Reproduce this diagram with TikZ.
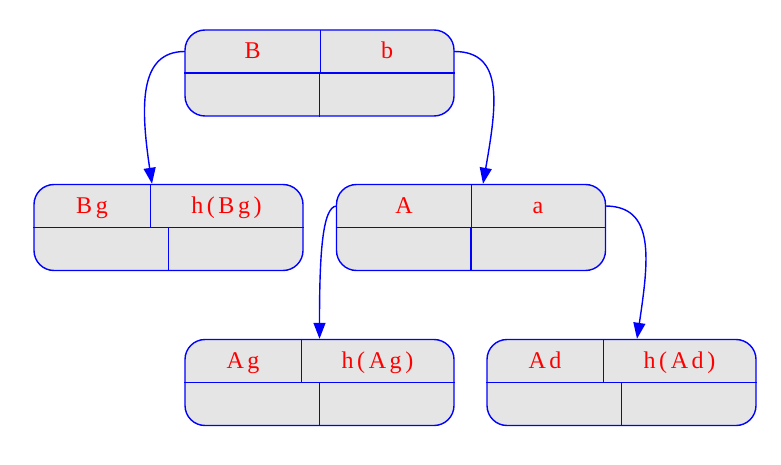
\documentclass[tikz,border=0pt]{standalone}
\usepackage{fontspec}
\setmainfont{Liberation Serif}[LetterSpace=15]
\usetikzlibrary{arrows.meta}
\definecolor{recgray}{HTML}{E5E5E5}

\begin{document}
\begin{tikzpicture}[x=1pt,y=-1pt,
  record/.style={draw=blue, fill=recgray, line width=1.4pt, rounded corners=20pt,
    minimum width=269pt, minimum height=86pt, inner sep=0pt},
  cell/.style={inner sep=0pt, minimum height=43pt, text=red,
    font=\fontsize{24}{24}\selectfont, text height=18pt, text depth=4pt},
  sep/.style={blue, line width=1.4pt},
  link/.style={blue, line width=1.4pt, -{Triangle[length=16pt,width=12pt]}}]
\useasboundingbox (0,0) rectangle (781,465);

% records
\node[record] (B) at (319.5,73) {};
\node[cell, minimum width=135pt] (Bk) at (252.5,51.5) {B};
\node[cell, minimum width=134pt] (Bv) at (387,51.5) {b};
\draw[sep] (B.west) -- (B.east);
\draw[sep] (Bk.north east) -- (Bk.south east);
\draw[sep] (B.center) -- (B.south);

\node[record] (Bg) at (168.5,227.5) {};
\node[cell, minimum width=116pt] (Bgk) at (92,206) {Bg};
\node[cell, minimum width=153pt] (Bgv) at (226.5,206) {h(Bg)};
\draw[sep] (Bg.west) -- (Bg.east);
\draw[sep] (Bgk.north east) -- (Bgk.south east);
\draw[sep] (Bg.center) -- (Bg.south);

\node[record] (A) at (471,227.5) {};
\node[cell, minimum width=134pt] (Ak) at (404,206) {A};
\node[cell, minimum width=134pt] (Av) at (538,206) {a};
\draw[sep] (A.west) -- (A.east);
\draw[sep] (Ak.north east) -- (Ak.south east);
\draw[sep] (A.center) -- (A.south);

\node[record] (Ag) at (319.5,382.5) {};
\node[cell, minimum width=116pt] (Agk) at (243,361) {Ag};
\node[cell, minimum width=153pt] (Agv) at (377.5,361) {h(Ag)};
\draw[sep] (Ag.west) -- (Ag.east);
\draw[sep] (Agk.north east) -- (Agk.south east);
\draw[sep] (Ag.center) -- (Ag.south);

\node[record] (Ad) at (621.5,382.5) {};
\node[cell, minimum width=116pt] (Adk) at (545,361) {Ad};
\node[cell, minimum width=153pt] (Adv) at (679.5,361) {h(Ad)};
\draw[sep] (Ad.west) -- (Ad.east);
\draw[sep] (Adk.north east) -- (Adk.south east);
\draw[sep] (Ad.center) -- (Ad.south);

% links
\draw[link] (Bk.west) .. controls +(-45,0) and +(-12,-80) .. ([xshift=-16.5pt]Bg.north);
\draw[link] (Bv.east) .. controls +(50,0) and +(14,-80) .. ([xshift=12pt]A.north);
\draw[link] (Ak.west) .. controls +(-15,0) and +(0,-80) .. (Ag.north);
\draw[link] (Av.east) .. controls +(50,0) and +(12,-80) .. ([xshift=15.5pt]Ad.north);
\end{tikzpicture}
\end{document}
